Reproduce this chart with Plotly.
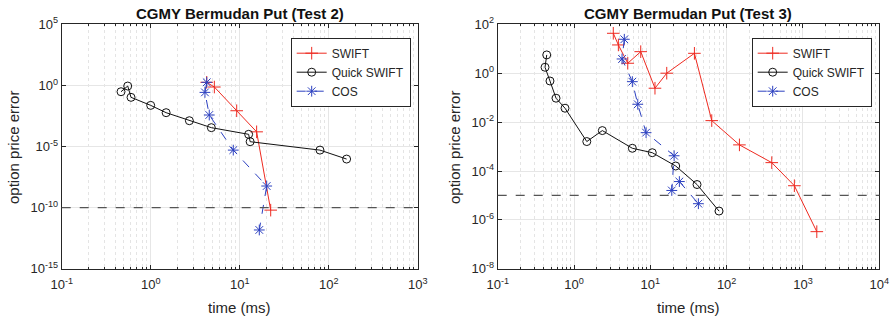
import plotly.graph_objects as go

# ---------------- data ----------------
# Test 2 (left)
swift2_t = [4.26, 5.19, 9.25, 15.5, 22.3]
swift2_e = [1.8, 0.74, 8.5e-3, 1.6e-4, 6.3e-11]
quick2_t = [0.464, 0.552, 0.601, 1.0, 1.49, 2.72, 4.8, 12.6, 13.1, 79.8, 159]
quick2_e = [0.305, 0.89, 0.106, 0.0234, 5.9e-3, 1.3e-3, 3.5e-4, 1.0e-4, 2.5e-5, 5.1e-6, 9.5e-7]
cos2_t = [4.26, 4.07, 4.55, 8.47, 20.1, 16.6]
cos2_e = [1.8, 0.27, 3.8e-3, 5.1e-6, 5.9e-9, 1.5e-12]
tol2 = 1e-10

# Test 3 (right)
swift3_t = [3.27, 3.81, 5.06, 7.48, 11.5, 16.4, 37.8, 63.8, 147, 390, 771, 1518]
swift3_e = [42.9, 14.3, 2.55, 7.6, 0.243, 1.0, 6.5, 0.0115, 1.17e-3, 2.2e-4, 2.5e-5, 3.3e-7]
quick3_t = [0.439, 0.417, 0.484, 0.581, 0.762, 1.47, 2.35, 5.81, 10.6, 21.5, 40.9, 79.4]
quick3_e = [5.6, 1.75, 0.48, 0.095, 0.037, 1.6e-3, 4.5e-3, 8.5e-4, 5.6e-4, 1.6e-4, 2.8e-5, 2.3e-6]
cos3_t = [4.56, 4.26, 5.81, 6.84, 8.79, 20.5, 19.1, 24.0, 42.6]
cos3_e = [24.4, 3.82, 0.451, 0.0537, 3.7e-3, 4.2e-4, 1.6e-5, 3.7e-5, 4.6e-6]
tol3 = 1e-5

titles = ["CGMY Bermudan Put (Test 2)", "CGMY Bermudan Put (Test 3)"]
x_label = "time (ms)"
y_label = "option price error"

x2_ticks = [-1, 0, 1, 2, 3]
y2_ticks = [-15, -10, -5, 0, 5]
x3_ticks = [-1, 0, 1, 2, 3, 4]
y3_ticks = [-8, -6, -4, -2, 0, 2]

# ---------------- styling ----------------
RED = "#ee2a20"
BLACK = "#111111"
BLUE = "#2c40c0"
FONT = "Liberation Sans, Arial, sans-serif"

def lbl(e):
    return "10<sup>%d</sup>" % e

fig = go.Figure()

def add_series(xs, ys, name, color, symbol, size, dash, xa, ya, legend):
    fig.add_trace(go.Scatter(
        x=xs, y=ys, name=name, mode="lines+markers",
        line=dict(color=color, width=1, dash=dash),
        marker=dict(symbol=symbol, size=size, color=color,
                    line=dict(color=color, width=1)),
        xaxis=xa, yaxis=ya, legend=legend))

add_series(swift2_t, swift2_e, "SWIFT", RED, "cross-thin", 9, "solid", "x", "y", "legend")
add_series(quick2_t, quick2_e, "Quick SWIFT", BLACK, "circle-open", 8, "solid", "x", "y", "legend")
add_series(cos2_t, cos2_e, "COS", BLUE, "asterisk-open", 9, "dash", "x", "y", "legend")

add_series(swift3_t, swift3_e, "SWIFT", RED, "cross-thin", 9, "solid", "x2", "y2", "legend2")
add_series(quick3_t, quick3_e, "Quick SWIFT", BLACK, "circle-open", 8, "solid", "x2", "y2", "legend2")
add_series(cos3_t, cos3_e, "COS", BLUE, "asterisk-open", 9, "dash", "x2", "y2", "legend2")

H, W = 321, 893
left_dom = [61.7 / W, 417.7 / W]
right_dom = [497.7 / W, 879.3 / W]
y_dom = [1 - 268.8 / H, 1 - 24.3 / H]

common = dict(
    type="log", showline=True, linecolor="#262626", linewidth=1, mirror="allticks",
    ticks="inside", ticklen=4, tickcolor="#262626",
    showgrid=True, gridcolor="#e6e6e6", gridwidth=1, zeroline=False,
    tickfont=dict(family=FONT, size=13, color="#262626"),
    tickmode="array", automargin=False,
)

xminor = dict(dtick="D1", ticks="inside", ticklen=2, tickcolor="#262626",
              showgrid=True, gridcolor="#e4e4e4", griddash="dot", gridwidth=1)

legend_style = dict(xanchor="left", yanchor="top",
                    bordercolor="#262626", borderwidth=1, bgcolor="white",
                    font=dict(family=FONT, size=12, color="#262626"),
                    tracegroupgap=0, itemwidth=30)

fig.update_layout(
    width=W, height=H, margin=dict(l=0, r=0, t=0, b=0, autoexpand=False),
    paper_bgcolor="white", plot_bgcolor="white",
    font=dict(family=FONT, size=12, color="#262626"),
    xaxis=dict(common, domain=left_dom, range=[-1, 3], anchor="y",
               tickvals=[10 ** e for e in x2_ticks], ticktext=[lbl(e) for e in x2_ticks],
               minor=xminor, ticklabelstandoff=4),
    yaxis=dict(common, domain=y_dom, range=[-15, 5], anchor="x",
               tickvals=[10 ** e for e in y2_ticks], ticktext=[lbl(e) for e in y2_ticks]),
    xaxis2=dict(common, domain=right_dom, range=[-1, 4], anchor="y2",
                tickvals=[10 ** e for e in x3_ticks], ticktext=[lbl(e) for e in x3_ticks],
                minor=xminor, ticklabelstandoff=4),
    yaxis2=dict(common, domain=y_dom, range=[-8, 2], anchor="x2",
                tickvals=[10 ** e for e in y3_ticks], ticktext=[lbl(e) for e in y3_ticks]),
    legend=dict(legend_style, x=290.7 / W, y=1 - 37.7 / H),
    legend2=dict(legend_style, x=751.7 / W, y=1 - 37.7 / H),
    showlegend=True,
)

# tolerance lines
for xr, yr, tol in [("x domain", "y", tol2), ("x2 domain", "y2", tol3)]:
    fig.add_shape(type="line", xref=xr, yref=yr, x0=0, x1=1, y0=tol, y1=tol,
                  line=dict(color="#555555", width=1.2, dash="dash"))

# titles and axis labels
for dom, t, ylx in zip([left_dom, right_dom], titles, [13, 454]):
    cx = (dom[0] + dom[1]) / 2
    fig.add_annotation(x=cx, y=1 - 13 / H, xref="paper", yref="paper",
                       xanchor="center", yanchor="middle",
                       text="<b>%s</b>" % t, showarrow=False,
                       font=dict(family=FONT, size=15, color="#111111"))
    fig.add_annotation(x=cx, y=1 - 307 / H, xref="paper", yref="paper",
                       xanchor="center", yanchor="middle",
                       text=x_label, showarrow=False,
                       font=dict(family=FONT, size=15, color="#262626"))
    fig.add_annotation(x=ylx / W, y=1 - 148 / H, xref="paper", yref="paper",
                       xanchor="center", yanchor="middle", textangle=-90,
                       text=y_label, showarrow=False,
                       font=dict(family=FONT, size=15, color="#262626"))

fig.write_html("out.html", config={"displayModeBar": False},
               post_script="document.body.style.margin='0px';document.body.style.padding='0px';")
